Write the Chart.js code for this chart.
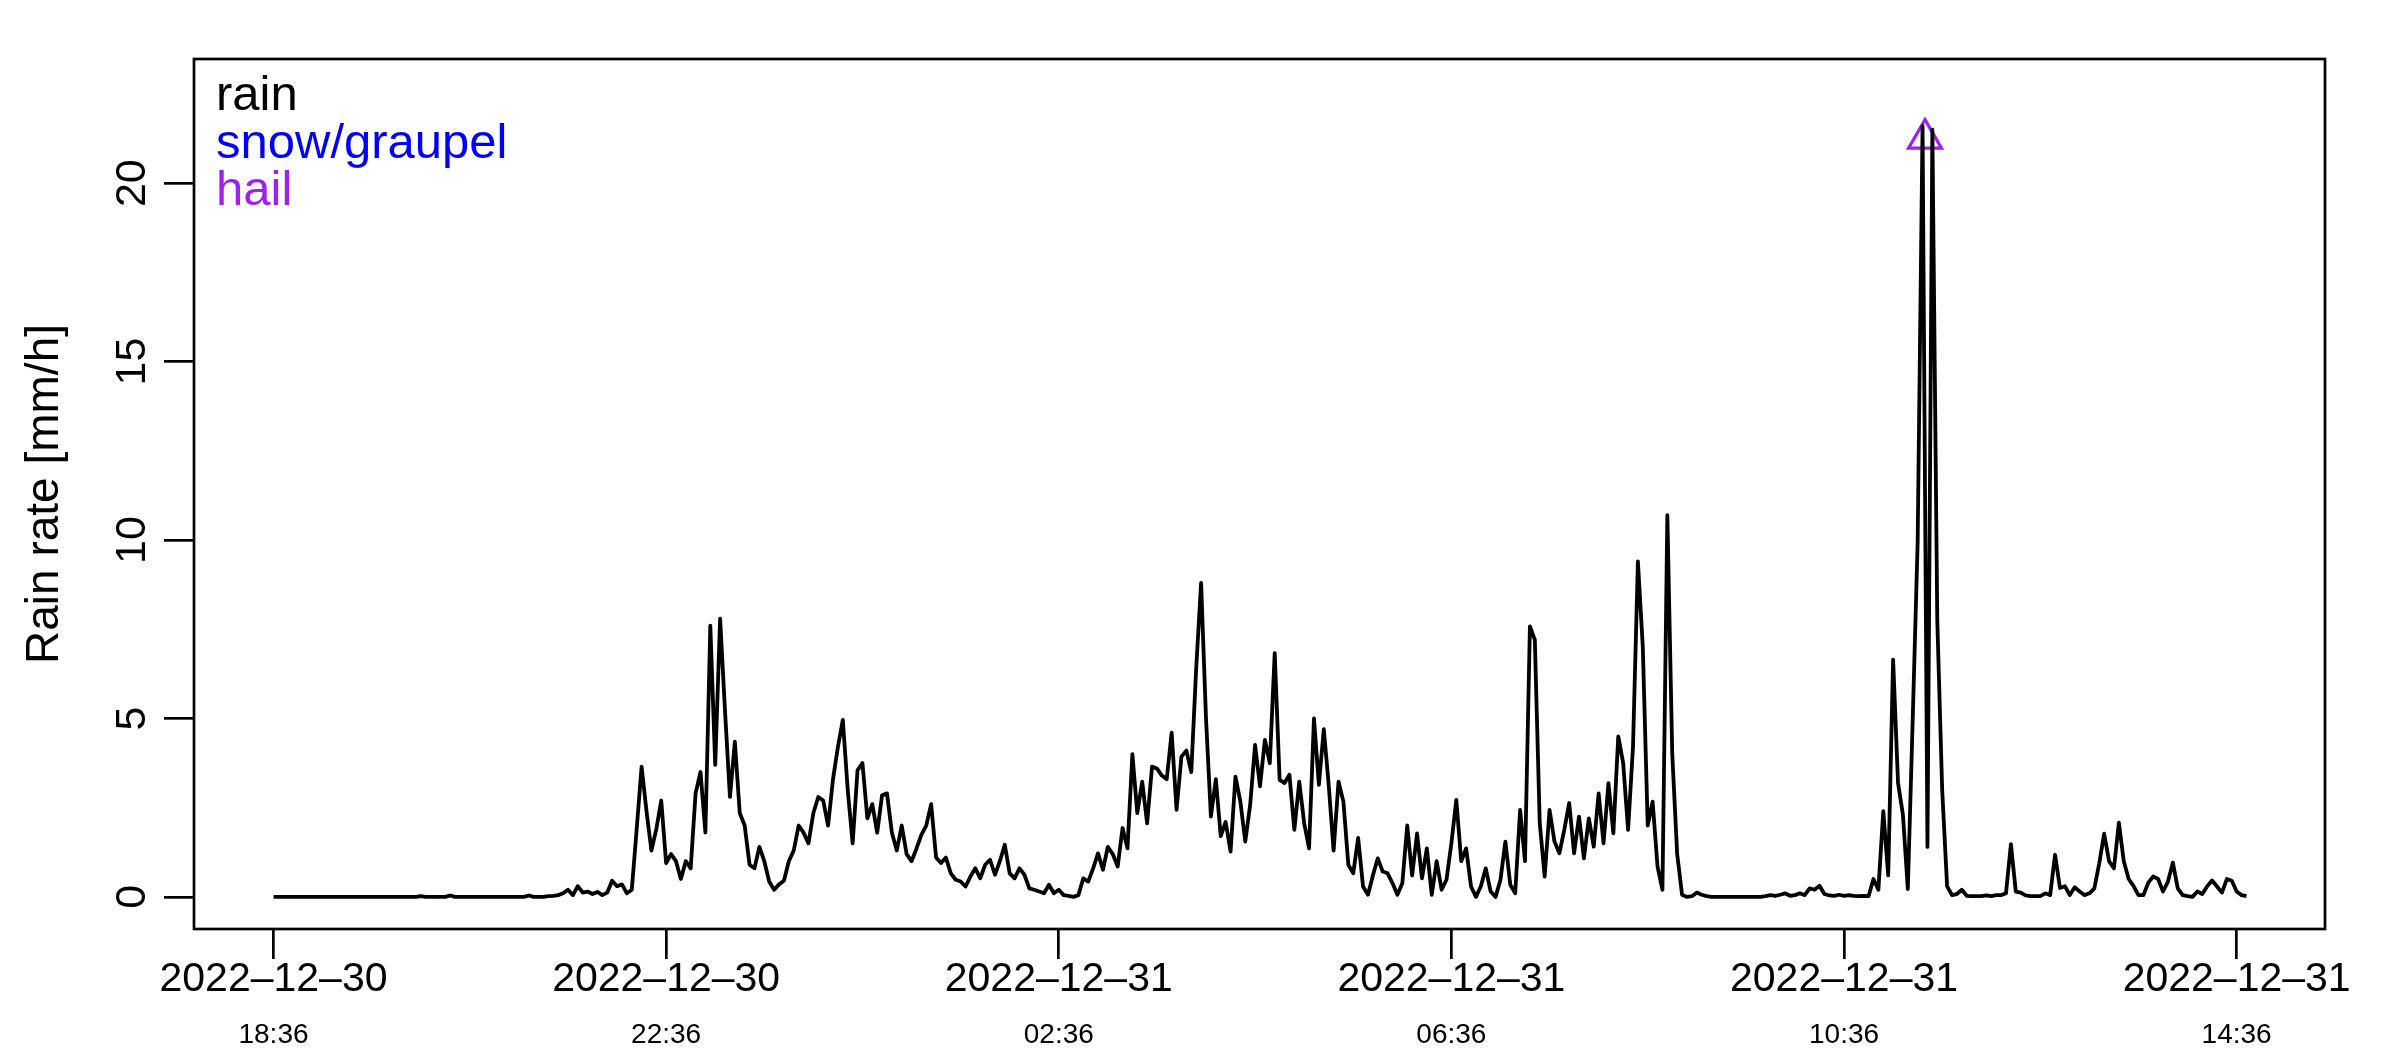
<!DOCTYPE html>
<html>
<head>
<meta charset="utf-8">
<title>Rain rate</title>
<script src="https://cdn.jsdelivr.net/npm/chart.js@4.4.1/dist/chart.umd.min.js"></script>
<style>
  body { margin: 0; background: #fff; }
  canvas { display: block; }
</style>
</head>
<body>
<canvas id="rainChart" width="2400" height="1050"></canvas>
<script>
// rain rate [mm/h], one value every 3 minutes from 2022-12-30 18:36
const startHour = 18.6;   // hours since 2022-12-30 00:00
const stepMinutes = 3;
const rainRate = [
  0,0,0,0,0,0,0,0,0,0, 0,0,0,0,0,0,0,0,0,0,
  0,0,0,0,0,0,0,0,0,0, 0.02,0,0,0,0,0,0.04,0,0,0,
  0,0,0,0,0,0,0,0,0,0, 0,0,0.04,0,0,0,0.02,0.03,0.05,0.1,
  0.2,0.05,0.3,0.12,0.15,0.08,0.14,0.05,0.12,0.45, 0.3,0.35,0.1,0.2,1.9,3.65,2.4,1.3,1.9,2.7,
  0.95,1.2,1.0,0.5,1.0,0.8,2.9,3.5,1.8,7.6, 3.7,7.8,5.2,2.8,4.35,2.35,2.0,0.9,0.8,1.4,
  1.0,0.43,0.2,0.35,0.45,1.0,1.3,2.0,1.8,1.5, 2.35,2.8,2.7,2.0,3.3,4.2,4.96,3.0,1.5,3.55,
  3.75,2.2,2.6,1.8,2.85,2.9,1.8,1.3,2.0,1.2, 1.0,1.35,1.74,2.0,2.6,1.1,0.95,1.1,0.66,0.48,
  0.43,0.29,0.57,0.8,0.52,0.9,1.04,0.62,1.0,1.46, 0.66,0.52,0.8,0.62,0.24,0.2,0.15,0.1,0.34,0.1,
  0.2,0.05,0.03,0,0.05,0.52,0.43,0.8,1.22,0.76, 1.4,1.2,0.85,1.93,1.36,4.0,2.35,3.23,2.06,3.65,
  3.6,3.4,3.3,4.6,2.44,3.93,4.1,3.5,6.4,8.8, 5.0,2.25,3.3,1.7,2.1,1.27,3.37,2.67,1.55,2.58,
  4.26,3.1,4.4,3.75,6.83,3.28,3.19,3.42,1.88,3.23, 2.07,1.36,5.0,3.14,4.7,3.14,1.3,3.23,2.67,0.9,
  0.66,1.65,0.29,0.06,0.6,1.08,0.71,0.66,0.38,0.06, 0.38,2.0,0.6,1.78,0.52,1.36,0.06,1.0,0.2,0.48,
  1.5,2.72,1.0,1.36,0.29,0,0.3,0.8,0.15,0, 0.48,1.55,0.34,0.1,2.44,1.0,7.58,7.2,2.07,0.57,
  2.44,1.55,1.22,1.88,2.63,1.22,2.25,1.08,2.2,1.41, 2.9,1.5,3.19,1.78,4.5,3.75,1.88,4.2,9.4,7.0,
  2.0,2.67,0.85,0.2,10.7,4.0,1.2,0.06,0,0.02, 0.12,0.06,0.02,0,0,0,0,0,0,0,
  0,0,0,0,0.02,0.05,0.03,0.06,0.1,0.03, 0.05,0.1,0.05,0.24,0.2,0.31,0.08,0.04,0.03,0.06,
  0.03,0.05,0.03,0.02,0.03,0.02,0.5,0.2,2.4,0.6, 6.65,3.2,2.3,0.22,5.0,9.93,21.6,1.4,21.5,7.75,
  3.0,0.3,0.05,0.08,0.2,0.03,0.02,0.02,0.02,0.04, 0.02,0.05,0.05,0.1,1.48,0.15,0.12,0.04,0.02,0.02,
  0.02,0.1,0.05,1.18,0.25,0.3,0.05,0.27,0.15,0.05, 0.1,0.24,0.94,1.77,1.0,0.8,2.08,1.0,0.5,0.3,
  0.05,0.05,0.4,0.57,0.5,0.15,0.43,0.96,0.24,0.05, 0.02,0,0.15,0.08,0.3,0.46,0.29,0.12,0.5,0.45,
  0.15,0.05,0.02
];

// hail observations
const hailHours = [35.425];
const hailRate = [21.25];

// axis ticks
const xTickHours = [18.6, 22.6, 26.6, 30.6, 34.6, 38.6];
const xTickDates = ["2022–12–30", "2022–12–30", "2022–12–31", "2022–12–31", "2022–12–31", "2022–12–31"];
const xTickTimes = ["18:36", "22:36", "02:36", "06:36", "10:36", "14:36"];
const yTicks = [0, 5, 10, 15, 20];

const legendLabels = ["rain", "snow/graupel", "hail"];
const legendColors = ["#000000", "#0000ff", "#a020f0"];

const FONT = '"Liberation Sans", Arial, Helvetica, sans-serif';
Chart.defaults.font.family = FONT;
Chart.defaults.color = "#000";

// box around the plot, rotated y labels and text legend (R style)
const rStyle = {
  id: "rStyle",
  afterDraw(chart) {
    const { ctx, chartArea: a, scales } = chart;
    ctx.save();
    ctx.strokeStyle = "#000";
    ctx.lineWidth = 2.7;
    ctx.strokeRect(a.left, a.top, a.right - a.left, a.bottom - a.top);

    ctx.fillStyle = "#000";
    ctx.font = "43px " + FONT;
    ctx.textAlign = "center";
    ctx.textBaseline = "alphabetic";
    yTicks.forEach(v => {
      const y = scales.y.getPixelForValue(v);
      ctx.save();
      ctx.translate(129, y);
      ctx.rotate(-Math.PI / 2);
      ctx.fillText(String(v), 0, 15.5);
      ctx.restore();
    });

    ctx.font = "49px " + FONT;
    ctx.textAlign = "left";
    legendLabels.forEach((t, i) => {
      ctx.fillStyle = legendColors[i];
      ctx.fillText(t, a.left + 22, a.top + 51 + i * 47.5);
    });
    ctx.restore();
  }
};

const tickLine = { display: true, drawOnChartArea: false, drawTicks: true, tickLength: 30, color: "#000", lineWidth: 2.7 };

new Chart(document.getElementById("rainChart"), {
  type: "line",
  data: {
    datasets: [
      {
        label: "rain",
        data: rainRate.map((v, i) => ({ x: startHour + i * stepMinutes / 60, y: v })),
        borderColor: "#000",
        borderWidth: 3.8,
        borderJoinStyle: "round",
        pointRadius: 0,
        tension: 0
      },
      {
        label: "hail",
        data: hailHours.map((h, i) => ({ x: h, y: hailRate[i] })),
        showLine: false,
        pointStyle: "triangle",
        pointRadius: 19,
        borderWidth: 3.2,
        borderColor: "#a020f0",
        backgroundColor: "rgba(0,0,0,0)"
      }
    ]
  },
  options: {
    responsive: false,
    animation: false,
    devicePixelRatio: 1,
    layout: { padding: { top: 59, right: 75, left: 0, bottom: 0 } },
    plugins: { legend: { display: false }, tooltip: { enabled: false } },
    scales: {
      x: {
        type: "linear", position: "bottom", weight: 0,
        min: 17.79, max: 39.5,
        afterBuildTicks: s => { s.ticks = xTickHours.map(v => ({ value: v })); },
        afterFit: s => { s.height = 70; },
        grid: tickLine,
        border: { display: false },
        ticks: {
          autoSkip: false, maxRotation: 0, padding: 0,
          font: { size: 41, lineHeight: 1 },
          callback: (v, i) => xTickDates[i]
        }
      },
      x2: {
        type: "linear", position: "bottom", axis: "x", weight: 1,
        min: 17.79, max: 39.5,
        afterBuildTicks: s => { s.ticks = xTickHours.map(v => ({ value: v })); },
        afterFit: s => { s.height = 51; },
        grid: { display: false },
        border: { display: false },
        ticks: {
          autoSkip: false, maxRotation: 0, padding: 14,
          font: { size: 28, lineHeight: 1 },
          callback: (v, i) => xTickTimes[i]
        }
      },
      y: {
        min: -0.9, max: 23.48,
        afterBuildTicks: s => { s.ticks = yTicks.map(v => ({ value: v })); },
        afterFit: s => { s.width = 194; },
        grid: tickLine,
        border: { display: false },
        ticks: { display: false },
        title: {
          display: true, text: "Rain rate [mm/h]",
          font: { size: 46 }, padding: { top: 18, bottom: 0 }
        }
      }
    }
  },
  plugins: [rStyle]
});
</script>
</body>
</html>
